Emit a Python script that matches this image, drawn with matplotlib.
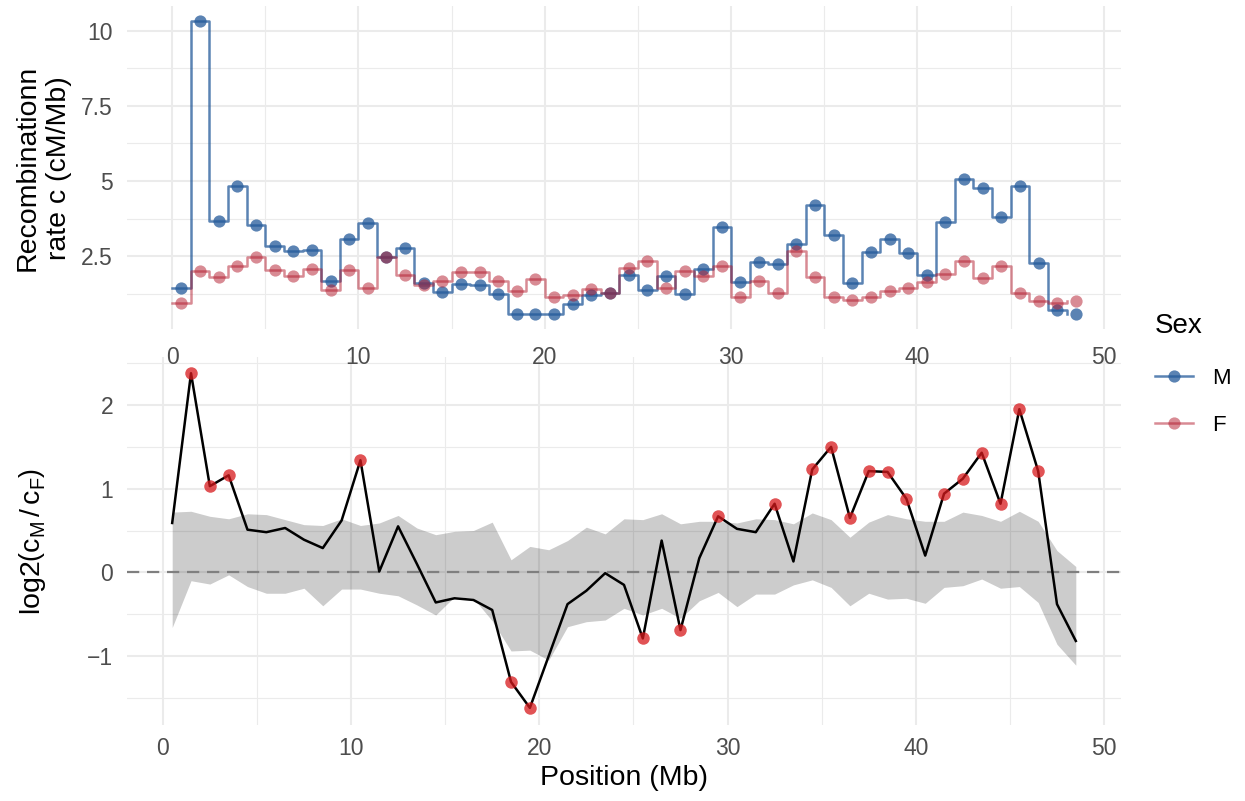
import matplotlib
matplotlib.use("Agg")
import matplotlib.pyplot as plt
from matplotlib.lines import Line2D
from matplotlib.ticker import MultipleLocator

plt.rcParams['font.family'] = ['Liberation Sans', 'DejaVu Sans']
plt.rcParams['mathtext.fontset'] = 'custom'
plt.rcParams['mathtext.rm'] = 'Liberation Sans'
plt.rcParams['mathtext.it'] = 'Liberation Sans:italic'
plt.rcParams['mathtext.bf'] = 'Liberation Sans:bold'

# ---------------- data ----------------
bin_start = list(range(49))          # Mb, bins of 1 Mb
bin_width = 1.0

rate_M = [1.43, 10.34, 3.68, 4.83, 3.53, 2.84, 2.67, 2.70, 1.68, 3.06,
          3.60, 2.47, 2.78, 1.60, 1.29, 1.58, 1.55, 1.23, 0.56, 0.56,
          0.56, 0.91, 1.21, 1.27, 1.87, 1.37, 1.83, 1.23, 2.07, 3.48,
          1.63, 2.31, 2.22, 2.91, 4.20, 3.21, 1.60, 2.63, 3.06, 2.59,
          1.88, 3.64, 5.07, 4.76, 3.79, 4.82, 2.26, 0.71, 0.56]

rate_F = [0.93, 2.00, 1.80, 2.16, 2.48, 2.05, 1.85, 2.07, 1.38, 2.02,
          1.43, 2.47, 1.88, 1.55, 1.68, 1.97, 1.97, 1.68, 1.35, 1.75,
          1.13, 1.21, 1.41, 1.27, 2.11, 2.35, 1.43, 2.00, 1.83, 2.16,
          1.13, 1.66, 1.26, 2.67, 1.79, 1.15, 1.04, 1.15, 1.35, 1.43,
          1.63, 1.91, 2.35, 1.77, 2.16, 1.26, 0.99, 0.95, 1.01]

log2_ratio = [0.59, 2.38, 1.03, 1.16, 0.51, 0.48, 0.53, 0.39, 0.29, 0.62,
              1.34, 0.01, 0.55, 0.10, -0.36, -0.31, -0.33, -0.45, -1.31, -1.62,
              -1.00, -0.38, -0.22, -0.01, -0.15, -0.79, 0.38, -0.69, 0.17, 0.67,
              0.52, 0.48, 0.82, 0.13, 1.23, 1.50, 0.65, 1.21, 1.20, 0.88,
              0.20, 0.94, 1.12, 1.43, 0.82, 1.95, 1.21, -0.38, -0.82]

null_upper = [0.72, 0.73, 0.67, 0.64, 0.70, 0.69, 0.63, 0.57, 0.56, 0.64,
              0.56, 0.59, 0.68, 0.53, 0.45, 0.49, 0.50, 0.60, 0.15, 0.31,
              0.27, 0.38, 0.54, 0.46, 0.64, 0.63, 0.70, 0.58, 0.61, 0.61,
              0.59, 0.64, 0.63, 0.58, 0.71, 0.63, 0.42, 0.60, 0.69, 0.64,
              0.61, 0.61, 0.72, 0.68, 0.61, 0.73, 0.61, 0.26, 0.07]

null_lower = [-0.66, -0.10, -0.14, -0.03, -0.17, -0.25, -0.25, -0.19, -0.40, -0.20,
              -0.20, -0.25, -0.28, -0.39, -0.51, -0.29, -0.31, -0.58, -0.94, -0.93,
              -1.05, -0.65, -0.59, -0.57, -0.43, -0.51, -0.43, -0.55, -0.34, -0.24,
              -0.41, -0.26, -0.26, -0.15, -0.09, -0.18, -0.40, -0.25, -0.32, -0.31,
              -0.37, -0.18, -0.16, -0.08, -0.19, -0.17, -0.36, -0.86, -1.11]

significant = [0, 1, 1, 1, 0, 0, 0, 0, 0, 0,
               1, 0, 0, 0, 0, 0, 0, 0, 1, 1,
               0, 0, 0, 0, 0, 1, 0, 1, 0, 1,
               0, 0, 1, 0, 1, 1, 1, 1, 1, 1,
               0, 1, 1, 1, 1, 1, 1, 0, 0]

sex_labels = ["M", "F"]
x_ticks = [0, 10, 20, 30, 40, 50]

# ---------------- styles ----------------
col_M = "#245A9A"
col_F = "#B2182B"
col_sig = "#D7191C"
grid_col = "#EBEBEB"
tick_col = "#4D4D4D"

W, H = 1245, 801
fig = plt.figure(figsize=(W / 100, H / 100), dpi=100)


def px_axes(left, top, right, bottom):
    return fig.add_axes([left / W, 1 - bottom / H, (right - left) / W, (bottom - top) / H])


def style(ax, xmin, xmax, ymin, ymax, ymajor, yminor, xpad):
    ax.set_xlim(xmin, xmax)
    ax.set_ylim(ymin, ymax)
    ax.patch.set_visible(False)
    for s in ax.spines.values():
        s.set_visible(False)
    ax.set_xticks(x_ticks)
    ax.xaxis.set_minor_locator(MultipleLocator(5))
    ax.yaxis.set_major_locator(MultipleLocator(ymajor))
    ax.yaxis.set_minor_locator(MultipleLocator(yminor))
    ax.grid(True, which="major", color=grid_col, linewidth=1.5, zorder=0)
    ax.grid(True, which="minor", color=grid_col, linewidth=0.8, zorder=0)
    ax.set_axisbelow(True)
    ax.tick_params(which="both", length=0, labelsize=16.5, labelcolor=tick_col)
    ax.tick_params(axis="x", pad=xpad)
    ax.tick_params(axis="y", pad=10)


mid = [s + bin_width / 2 for s in bin_start]

# ---------------- top panel ----------------
ax1 = px_axes(127, 6, 1121, 329)
ax1.set_zorder(2)
allr = rate_M + rate_F
ymin1, ymax1 = min(allr), max(allr)
e1 = 0.05 * (ymax1 - ymin1)
xmin1, xmax1 = min(bin_start), max(mid)
ex1 = 0.05 * (xmax1 - xmin1)
style(ax1, xmin1 - ex1, xmax1 + ex1, ymin1 - e1, ymax1 + e1, 2.5, 1.25, 12)
ax1.yaxis.set_major_formatter(plt.FuncFormatter(lambda v, p: ("%g" % v)))

ax1.step(bin_start, rate_M, where="post", color=col_M, alpha=0.75, lw=1.8, zorder=2)
ax1.step(bin_start, rate_F, where="post", color=col_F, alpha=0.5, lw=1.8, zorder=2)
ax1.plot(mid, rate_M, "o", color=col_M, alpha=0.75, ms=8.8, mec="none", zorder=3)
ax1.plot(mid, rate_F, "o", color=col_F, alpha=0.5, ms=8.8, mec="none", zorder=3)

fig.text(43 / W, 1 - 168 / H, "Recombinationn\nrate c (cM/Mb)", rotation=90,
         ha="center", va="center", fontsize=20.5, linespacing=1.25, color="black")

# ---------------- bottom panel ----------------
ax2 = px_axes(127, 356.5, 1121, 724.6)
ax2.set_zorder(1)
ally = log2_ratio + null_upper + null_lower
ymin2, ymax2 = min(ally), max(ally)
e2 = 0.05 * (ymax2 - ymin2)
xmin2, xmax2 = min(mid), max(mid)
ex2 = 0.05 * (xmax2 - xmin2)
style(ax2, xmin2 - ex2, xmax2 + ex2, ymin2 - e2, ymax2 + e2, 1, 0.5, 9)
ax2.yaxis.set_major_formatter(plt.FuncFormatter(lambda v, p: ("%g" % v).replace("-", "\u2212")))

ax2.fill_between(mid, null_lower, null_upper, color="black", alpha=0.2, lw=0, zorder=1)
ax2.axhline(0, color="#7F7F7F", lw=1.6, dashes=(5.5, 3.5), zorder=2)
ax2.plot(mid, log2_ratio, color="black", lw=1.8, zorder=3)
sx = [m for m, s in zip(mid, significant) if s]
sy = [v for v, s in zip(log2_ratio, significant) if s]
ax2.plot(sx, sy, "o", color=col_sig, alpha=0.75, ms=9, mec="none", zorder=4)

fig.text(33 / W, 1 - 541 / H,
         r"$\mathrm{log2}\left(\mathrm{c}_{\mathrm{M}}\,/\,\mathrm{c}_{\mathrm{F}}\right)$",
         rotation=90, ha="center", va="center", fontsize=20.5, color="black")
fig.text(624 / W, 1 - 778 / H, "Position (Mb)", ha="center", va="center",
         fontsize=20.5, color="black")

# ---------------- legend ----------------
handles = [
    Line2D([], [], color=col_M, alpha=0.75, lw=1.8, marker="o", ms=8.8, mec="none"),
    Line2D([], [], color=col_F, alpha=0.5, lw=1.8, marker="o", ms=8.8, mec="none"),
]
leg = fig.legend(handles, sex_labels, title="Sex", loc="upper left",
                 bbox_to_anchor=(1155 / W, 1 - 313 / H), frameon=False,
                 fontsize=16, title_fontsize=20, handlelength=1.7,
                 handletextpad=0.85, labelspacing=1.15, borderpad=0,
                 borderaxespad=0, alignment="left")
leg._legend_box.sep = 21

fig.savefig("out.png", dpi=100, facecolor="white")
